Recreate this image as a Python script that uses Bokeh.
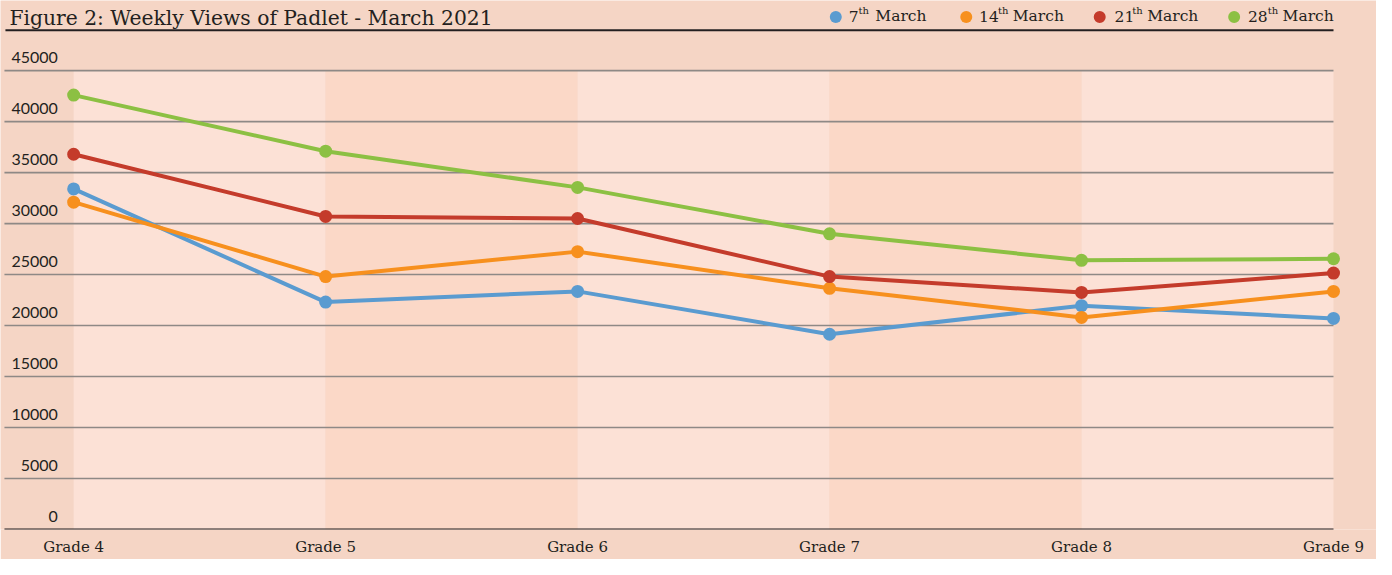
from bokeh.plotting import figure
from bokeh.models import Range1d, FixedTicker
from bokeh.core.properties import value
from bokeh.embed import file_html
from bokeh.resources import INLINE

# ---------------- data ----------------
grades = ["Grade 4", "Grade 5", "Grade 6", "Grade 7", "Grade 8", "Grade 9"]
views_7th = [33400, 22300, 23350, 19150, 21950, 20700]
views_14th = [32100, 24800, 27250, 23650, 20800, 23350]
views_21st = [36800, 30700, 30500, 24800, 23250, 25150]
views_28th = [42600, 37100, 33550, 29000, 26400, 26550]
series_day = ["7", "14", "21", "28"]
series_sup = ["th", "th", "th", "th"]
series_rest = ["March", "March", "March", "March"]
y_ticks = [0, 5000, 10000, 15000, 20000, 25000, 30000, 35000, 40000, 45000]
title_text = "Figure 2: Weekly Views of Padlet - March 2021"

# ---------------- styles ----------------
PAGE = "#F5D5C5"
BAND_LIGHT = "#FCE1D6"
BAND_DARK = "#FBD8C7"
GRID = "#8E8986"
INK = "#231F20"
COLORS = ["#5A9BD0", "#F7901E", "#C43B2B", "#8CC043"]
SERIF = value("DejaVu Serif")
SANS = value("Lato")

W, H = 1376, 559
SX, SY = W / 1392, H / 575           # reference-pixel -> figure-pixel
FRAME_H = round(544 * SY)            # frame bottom at value 0
X0 = 74 * SX                         # figure x of first category
PXU = (1348.5 - 74) * SX / 5         # pixels per category
PYU = (544 - 72) * SY / 45000        # pixels per unit value
TXT = 6.5                            # svg text baseline correction (px)


def dx(ref_px):
    return (ref_px * SX - X0) / PXU


def dy(ref_py):
    return (FRAME_H - ref_py * SY) / PYU


def ty(ref_py):
    return (FRAME_H - ref_py * SY + TXT) / PYU


p = figure(frame_width=W, frame_height=FRAME_H, output_backend="svg", toolbar_location=None,
           x_range=Range1d(dx(0), dx(1392)), y_range=Range1d(0, dy(0)),
           min_border=0, min_border_left=0, min_border_right=0, min_border_top=0,
           min_border_bottom=H - FRAME_H)
p.background_fill_color = PAGE
p.border_fill_color = PAGE
p.outline_line_color = None
p.grid.visible = False
p.yaxis.visible = False

# x axis (category labels)
xs = list(range(len(grades)))
p.xaxis.ticker = FixedTicker(ticks=xs)
p.xaxis.major_label_overrides = {i: g for i, g in enumerate(grades)}
p.xaxis.axis_line_color = None
p.xaxis.major_tick_line_color = None
p.xaxis.minor_tick_line_color = None
p.xaxis.major_label_standoff = 2
p.xaxis.major_label_text_font = "DejaVu Serif"
p.xaxis.major_label_text_font_size = "15px"
p.xaxis.major_label_text_color = INK

# alternating bands
left = xs[:-1]
right = xs[1:]
band_colors = [BAND_LIGHT if i % 2 == 0 else BAND_DARK for i in left]
p.quad(left=left, right=right, bottom=[0] * len(left), top=[y_ticks[-1]] * len(left),
       fill_color=band_colors, line_color=None)

# gridlines
g_ticks = y_ticks[1:]
p.segment(x0=[dx(4)] * len(g_ticks), x1=[xs[-1]] * len(g_ticks), y0=g_ticks, y1=g_ticks,
          line_color=GRID, line_width=1.6)
# baseline
p.segment(x0=[dx(4)], x1=[xs[-1]], y0=[0], y1=[0], line_color=INK, line_width=2)

# y tick labels
p.text(x=[dx(58)] * len(y_ticks), y=[t + (7 * SY + TXT) / PYU for t in y_ticks],
       text=[str(t) for t in y_ticks], text_align="right", text_baseline="alphabetic",
       text_font=SANS, text_font_size="16px", text_color=INK)

# series
for vals, c in zip([views_7th, views_14th, views_21st, views_28th], COLORS):
    p.line(xs, vals, line_color=c, line_width=4, line_join="round")
    p.scatter(xs, vals, size=13, fill_color=c, line_color=None)

# title and header rule
p.text(x=[dx(9)], y=[ty(25)], text=[title_text], text_align="left",
       text_baseline="alphabetic", text_font=SERIF, text_font_size="20.3px", text_color=INK)
p.segment(x0=[dx(5)], x1=[xs[-1]], y0=[dy(30.5)], y1=[dy(30.5)], line_color=INK, line_width=2)

# legend (dot, day number, superscript, month)
dot_px = [845, 977, 1112, 1248]
day_px = [858, 990, 1127, 1262]
sup_px = [868, 1009, 1145, 1282]
rest_px = [885, 1024, 1160, 1297]
p.scatter([dx(v) for v in dot_px], [dy(17)] * 4, size=12, fill_color=COLORS, line_color=None)
p.text(x=[dx(v) for v in day_px], y=[ty(23)] * 4, text=series_day, text_align="left",
       text_baseline="alphabetic", text_font=SERIF, text_font_size="15.5px", text_color=INK)
p.text(x=[dx(v) for v in sup_px], y=[ty(16.5)] * 4, text=series_sup, text_align="left",
       text_baseline="alphabetic", text_font=SERIF, text_font_size="10px", text_color=INK)
p.text(x=[dx(v) for v in rest_px], y=[ty(23)] * 4, text=series_rest, text_align="left",
       text_baseline="alphabetic", text_font=SERIF, text_font_size="15.5px", text_color=INK)

open("out.html", "w").write(file_html(p, INLINE))
